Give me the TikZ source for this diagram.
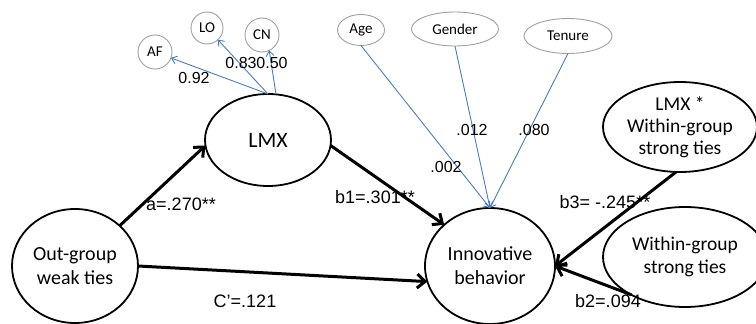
\documentclass[tikz,border=0pt]{standalone}
\usepackage{fontspec}
\setmainfont{Carlito}
\newfontfamily\arialfont{Liberation Sans}
\usetikzlibrary{arrows.meta,shapes.geometric}

\begin{document}
\begin{tikzpicture}
    [x=1pt, y=-1pt,
    %Option for nice arrows
    >={Straight Barb[length=8pt,width=14pt]},
    inner sep=0pt, outer sep=0pt,
    latent/.style={ellipse,draw,line width=1.8pt,align=center,
        font=\fontsize{20}{24}\selectfont},
    indic/.style={ellipse,draw=ringgray,line width=0.9pt,
        font=\fontsize{15}{18}\selectfont},
    effect/.style={line width=3pt,->},
    load/.style={color=lineblue,line width=0.9pt,
        -{Straight Barb[length=5pt,width=8pt]}},
    coef/.style={font=\arialfont\fontsize{18}{20}\selectfont},
    est/.style={font=\arialfont\fontsize{16}{18}\selectfont}]

    % Colors
    \definecolor{lineblue}{RGB}{74,126,187}
    \definecolor{ringgray}{RGB}{160,160,160}

    % Frame
    \useasboundingbox (0,0) rectangle (756,324);

    % Latent variables
    \node[latent, minimum width=126pt, minimum height=92pt] (LMX) at (268,140)
        {\fontsize{22}{26}\selectfont LMX};
    \node[latent, minimum width=126pt, minimum height=114pt] (OWT) at (75,266)
        {Out-group\\weak ties};
    \node[latent, minimum width=130pt, minimum height=116pt] (IB) at (490,266)
        {Innovative\\behavior};
    \node[latent, minimum width=154pt, minimum height=90pt,
        font=\fontsize{19.5}{22}\selectfont] (INT) at (680,127)
        {LMX *\\Within-group\\strong ties};
    \node[latent, minimum width=164pt, minimum height=100pt,
        font=\fontsize{19.5}{23}\selectfont] (WST) at (685,257)
        {Within-group\\strong ties};

    % Indicators and controls
    \node[indic, minimum size=34pt] (AF) at (155,52) {AF};
    \node[indic, minimum size=32pt] (LO) at (207,28) {LO};
    \node[indic, minimum size=34pt] (CN) at (262,35) {CN};
    \node[indic, minimum width=47pt, minimum height=31pt] (Age) at (361,30) {Age};
    \node[indic, minimum width=87pt, minimum height=34pt] (Gender) at (455,29) {Gender};
    \node[indic, minimum width=88pt, minimum height=35pt] (Tenure) at (568,36) {Tenure};

    % Loadings
    \draw[load] (LMX.north) -- (AF);
    \draw[load] (LMX.north) -- (LO);
    \draw[load] (LMX.80) -- (CN.-65);
    \node[est] (l92) at (194,78) {0.92};
    \node[est] (l83) at (241,63) {0.83};
    \node[est] (l50) at (272,63) {0.50};

    % Control paths
    \draw[load] (Age.south) -- (IB.north);
    \draw[load] (Gender.south) -- (IB.north);
    \draw[load] (Tenure.south) -- (IB.north);
    \node[est] (cAge) at (446,167) {.002};
    \node[est] (cGender) at (472,130) {.012};
    \node[est] (cTenure) at (534,130) {.080};

    % Structural paths
    \draw[effect] (OWT.42) -- (LMX.185);
    \draw[effect] (LMX.-5) -- (IB.138);
    \draw[effect] (OWT.east) -- (IB.194);
    \draw[effect] (INT.265) -- (IB.east);
    \draw[effect] (WST.215) -- (IB.east);
    \node[coef] (pa) at (181,204) {a=.270**};
    \node[coef] (pb1) at (375,197) {b1=.301**};
    \node[coef] (pc) at (245,301) {C’=.121};
    \node[coef] (pb3) at (605,202) {b3= -.245**};
    \node[coef] (pb2) at (608,301) {b2=.094};

\end{tikzpicture}
\end{document}
